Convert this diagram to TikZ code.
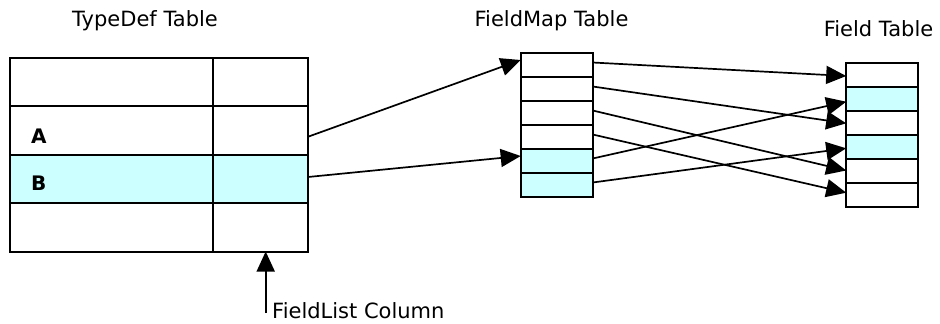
\documentclass[tikz,border=0pt]{standalone}
\usepackage{fontspec}
\setmainfont{DejaVu Sans}
\usetikzlibrary{arrows.meta}
\definecolor{rowcyan}{RGB}{204,255,255}
\tikzset{
  cell/.style={draw=black, line width=2pt, rectangle, inner sep=0pt, outer sep=0pt},
  tdcol1/.style={cell, minimum width=203.2pt, minimum height=48.5pt},
  tdcol2/.style={cell, minimum width=95.3pt, minimum height=48.5pt},
  smallrow/.style={cell, minimum width=72pt, minimum height=24pt},
  hi/.style={fill=rowcyan},
  ptr/.style={draw=black, line width=1.7pt, -{Triangle[length=20pt,width=18pt]}},
  title/.style={anchor=base, inner sep=0pt, font=\fontsize{21}{25}\selectfont},
  rowlabel/.style={anchor=west, inner sep=0pt, font=\fontsize{20}{24}\selectfont\bfseries}
}
\begin{document}
\begin{tikzpicture}[x=1pt, y=-1pt]
\useasboundingbox (0,0) rectangle (940,324);

% TypeDef table: four rows, two columns
\node[tdcol1] (td1a) at (111.1,81.75) {};
\node[tdcol2] (td1b) at (260.35,81.75) {};
\node[tdcol1] (td2a) at (111.1,130.25) {};
\node[tdcol2] (td2b) at (260.35,130.25) {};
\node[tdcol1, hi] (td3a) at (111.1,178.75) {};
\node[tdcol2, hi] (td3b) at (260.35,178.75) {};
\node[tdcol1] (td4a) at (111.1,227.25) {};
\node[tdcol2] (td4b) at (260.35,227.25) {};
\node[rowlabel] (la) at (31,136) {A};
\node[rowlabel] (lb) at (31,183.5) {B};

% FieldMap table
\node[smallrow] (fm1) at (556.7,64.5) {};
\node[smallrow] (fm2) at (556.7,88.5) {};
\node[smallrow] (fm3) at (556.7,112.5) {};
\node[smallrow] (fm4) at (556.7,136.5) {};
\node[smallrow, hi] (fm5) at (556.7,160.5) {};
\node[smallrow, hi] (fm6) at (556.7,184.5) {};

% Field table
\node[smallrow] (f1) at (882.2,74.5) {};
\node[smallrow, hi] (f2) at (882.2,98.5) {};
\node[smallrow] (f3) at (882.2,122.5) {};
\node[smallrow, hi] (f4) at (882.2,146.5) {};
\node[smallrow] (f5) at (882.2,170.5) {};
\node[smallrow] (f6) at (882.2,194.5) {};

% titles, centred over their tables
\node[title] (ttd) at (145,26) {TypeDef Table};
\node[title] (tfm) at (551.5,26) {FieldMap Table};
\node[title] (tf) at (878.5,36) {Field Table};
\node[title, anchor=base west] (tfl) at (272,318) {FieldList Column};

% TypeDef rows point into the FieldMap table
\draw[ptr] ([yshift=-6.5pt]td2b.east) -- ([yshift=4.5pt]fm1.west);
\draw[ptr] ([yshift=1.75pt]td3b.east) -- ([yshift=4.5pt]fm5.west);

% FieldMap rows point into the Field table
\draw[ptr] ([yshift=2pt]fm1.east) -- ([yshift=-1.5pt]f1.west);
\draw[ptr] ([yshift=2pt]fm2.east) -- ([yshift=-0.8pt]f3.west);
\draw[ptr] ([yshift=2pt]fm3.east) -- ([yshift=0pt]f5.west);
\draw[ptr] ([yshift=2pt]fm4.east) -- ([yshift=1.8pt]f6.west);
\draw[ptr] ([yshift=2pt]fm5.east) -- ([yshift=-3.2pt]f2.west);
\draw[ptr] ([yshift=2pt]fm6.east) -- ([yshift=-1.8pt]f4.west);

% FieldList column marker
\coordinate (flfoot) at (265.7,313);
\draw[ptr] (flfoot) -- (flfoot |- td4b.south);
\end{tikzpicture}
\end{document}
